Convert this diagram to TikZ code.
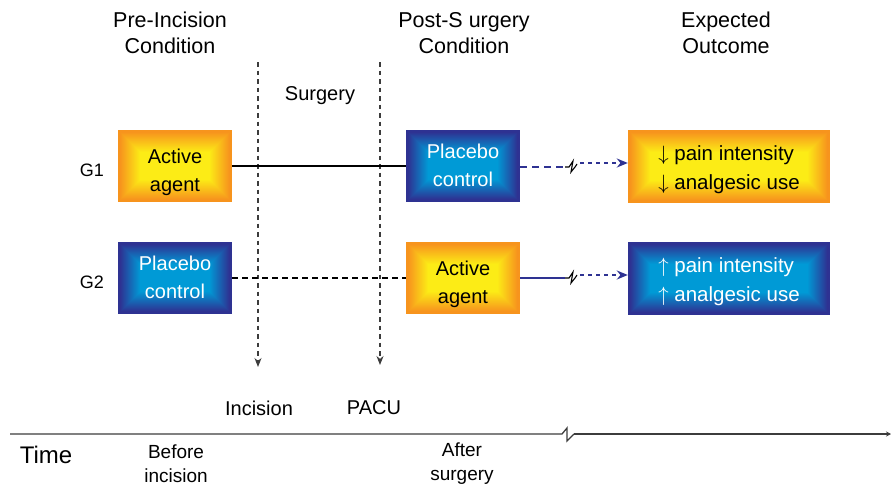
\documentclass[tikz,border=0pt]{standalone}
\usepackage{fontspec}
\setmainfont{Liberation Sans}
\usetikzlibrary{arrows.meta}
\definecolor{oc}{RGB}{247,148,29}
\definecolor{yc}{RGB}{252,236,22}
\definecolor{bo}{RGB}{46,50,146}
\definecolor{bc}{RGB}{0,154,214}
\definecolor{ln}{RGB}{60,60,60}
\newcommand\twoline[3]{\raisebox{#3}[\height][\depth]{\begin{tabular}{@{}c@{}}#1\\#2\end{tabular}}}
\newcommand\twolinel[3]{\raisebox{#3}[\height][\depth]{\begin{tabular}{@{}l@{}}#1\\#2\end{tabular}}}
\tikzset{
  glow/.style 2 args={fill=#1, path picture={
    \foreach \i in {0,...,24}{
      \pgfmathtruncatemacro\p{max(0,min(100,(\i-2)*5))}
      \fill[#2!\p!#1] ([shift={(\i pt,\i pt)}]path picture bounding box.south west) rectangle ([shift={(-\i pt,-\i pt)}]path picture bounding box.north east);
    }}},
  box/.style={draw=none, minimum width=114pt, minimum height=72pt, inner sep=0pt, font=\fontsize{20}{28}\selectfont},
  actbox/.style={box, glow={oc}{yc}, text=black},
  plcbox/.style={box, glow={bo}{bc}, text=white},
  outbox/.style={minimum width=202pt, minimum height=73pt, font=\fontsize{20.5}{29}\selectfont},
  hd/.style={align=center, inner sep=0pt, font=\fontsize{21.5}{26}\selectfont},
  lbl/.style={inner sep=0pt, font=\fontsize{20}{24}\selectfont},
  tl/.style={align=center, inner sep=0pt, font=\fontsize{19}{24}\selectfont},
  vdash/.style={draw=ln, line width=1.2pt, dash pattern=on 4.5pt off 4pt, -{Stealth[length=9pt,width=7pt]}},
  blk/.style={draw=black, line width=1.1pt},
  bdash/.style={draw=bo, line width=1.3pt, dash pattern=on 7pt off 5pt},
  bdot/.style={draw=bo, line width=1.7pt, dash pattern=on 4pt off 4pt, -{Stealth[length=11pt,width=9pt]}},
  zz/.style={draw=black, line width=1.1pt, line join=miter},
  tline/.style={draw=ln, line width=1.3pt},
}
\begin{document}
\begin{tikzpicture}[x=1pt,y=-1pt]
\useasboundingbox (0,0) rectangle (891,490);
% headers
\node[hd] (h1) at (170,33) {Pre-Incision\\Condition};
\node[hd] (h2) at (464,33) {Post-S urgery\\Condition};
\node[hd] (h3) at (726,33) {Expected\\Outcome};
\node[lbl] (surg) at (320,96) {Surgery};
% group labels
\node[inner sep=0pt, font=\fontsize{18}{22}\selectfont] (g1) at (92,170) {G1};
\node[inner sep=0pt, font=\fontsize{18}{22}\selectfont] (g2) at (92,282) {G2};
% boxes
\node[actbox] (a1) at (175,166) {\twoline{Active}{agent}{-6pt}};
\node[plcbox] (a2) at (175,278) {\twoline{Placebo}{control}{-1pt}};
\node[plcbox] (p1) at (463,166) {\twoline{Placebo}{control}{-1pt}};
\node[actbox] (p2) at (463,278) {\twoline{Active}{agent}{-6pt}};
\node[actbox, outbox] (o1) at (729,166.5) {\twolinel{$\downarrow$ pain intensity}{$\downarrow$ analgesic use}{-3pt}};
\node[plcbox, outbox] (o2) at (729,278) {\twolinel{$\uparrow$ pain intensity}{$\uparrow$ analgesic use}{-3pt}};
% vertical dashed arrows
\node[lbl] (inc) at (259,408) {Incision};
\node[lbl] (pacu) at (374,408) {PACU};
\coordinate (v1t) at (258,62);
\coordinate (v2t) at (380,62);
\draw[vdash] (v1t) -- (258,367);
\draw[vdash] (v2t) -- (380,365);
% G1 connectors
\draw[blk] (a1.east) -- (p1.west);
\coordinate (z1a) at (565,167);
\coordinate (z1b) at (580,163);
\draw[bdash] (p1.east |- z1a) -- (z1a);
\draw[zz] (z1a) -- (569,167) -- (573,161) -- (571,172) -- (575,167) -- (577,164);
\draw[bdot] (z1b) -- (z1b -| o1.west);
% G2 connectors
\draw[blk, dash pattern=on 6pt off 4pt] (a2.east) -- (p2.west);
\coordinate (z2a) at (565,278);
\coordinate (z2b) at (580,275);
\draw[draw=bo, line width=1.1pt] (p2.east |- z2a) -- (z2a);
\draw[zz] (z2a) -- (569,278) -- (573,272) -- (571,283) -- (575,278) -- (577,275);
\draw[bdot] (z2b) -- (z2b -| o2.west);
% timeline
\coordinate (t0) at (10,434);
\coordinate (t1) at (562,434);
\coordinate (t2) at (574,434);
\coordinate (t3) at (891,434);
\draw[tline] (t0) -- (t1) -- (567,428) -- (567,441) -- (t2);
\draw[tline, -{Stealth[length=5pt,width=5pt]}] (t2) -- (t3);
\node[inner sep=0pt, font=\fontsize{24}{26}\selectfont] (time) at (46,455) {Time};
\node[tl] (bef) at (176,464) {Before\\incision};
\node[tl] (aft) at (462,464) {After\\surgery};
\end{tikzpicture}
\end{document}
